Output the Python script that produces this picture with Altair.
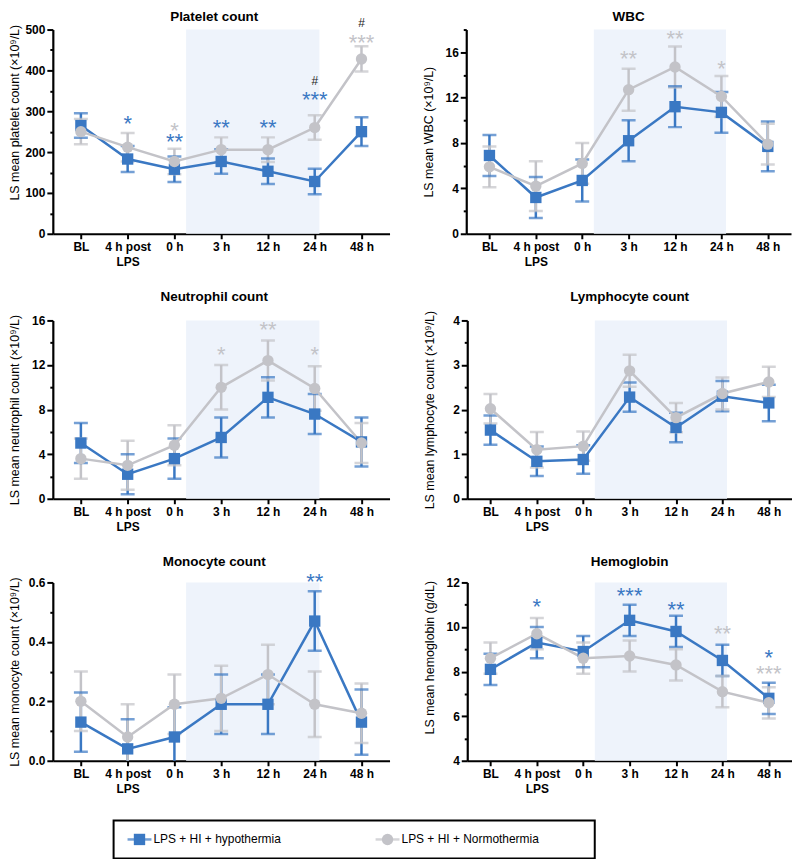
import json
import altair as alt
import pandas as pd

# ---------------- data ----------------
TIMEPOINTS = ["BL", "4 h post\nLPS", "0 h", "3 h", "12 h", "24 h", "48 h"]
GROUPS = ["LPS + HI + hypothermia", "LPS + HI + Normothermia"]
GROUP_COLORS = ["#3a78c3", "#c3c3c8"]
GROUP_SHAPES = ["square", "circle"]
HASH_COLOR = "#222222"
SHADE_COLOR = "#eef3fb"

platelet_hypo = [265, 183, 158, 177, 153, 128, 250]
platelet_hypo_err = [30, 32, 31, 30, 31, 31, 35]
platelet_norm = [250, 212, 177, 206, 206, 260, 428]
platelet_norm_err = [31, 35, 31, 30, 30, 30, 31]
# (timepoint index, text, group index (-1 = between-group '#'), y position)
platelet_sig = [(1, "*", 0, 280), (2, "*", 1, 264), (2, "**", 0, 236), (3, "**", 0, 272),
                (4, "**", 0, 272), (5, "#", -1, 374), (5, "***", 0, 340),
                (6, "#", -1, 516), (6, "***", 1, 480)]

wbc_hypo = [6.9, 3.2, 4.7, 8.2, 11.2, 10.7, 7.7]
wbc_hypo_err = [1.8, 1.8, 1.85, 1.8, 1.8, 1.8, 2.2]
wbc_norm = [5.9, 4.2, 6.2, 12.7, 14.7, 12.1, 7.9]
wbc_norm_err = [1.8, 2.2, 1.8, 1.85, 1.8, 1.8, 1.8]
wbc_sig = [(3, "**", 1, 15.8), (4, "**", 1, 17.6), (5, "*", 1, 15.0)]

neut_hypo = [5.0, 2.2, 3.6, 5.5, 9.1, 7.6, 5.1]
neut_hypo_err = [1.8, 1.8, 1.8, 1.8, 1.8, 1.8, 2.2]
neut_norm = [3.6, 3.0, 4.8, 10.0, 12.4, 9.9, 5.0]
neut_norm_err = [1.8, 2.2, 1.8, 2.0, 1.8, 2.0, 1.8]
neut_sig = [(3, "*", 1, 13.3), (4, "**", 1, 15.6), (5, "*", 1, 13.3)]

lymph_hypo = [1.54, 0.84, 0.88, 2.28, 1.60, 2.30, 2.15]
lymph_hypo_err = [0.33, 0.33, 0.32, 0.33, 0.33, 0.34, 0.41]
lymph_norm = [2.02, 1.10, 1.18, 2.87, 1.82, 2.36, 2.62]
lymph_norm_err = [0.33, 0.40, 0.33, 0.36, 0.33, 0.36, 0.34]
lymph_sig = []

mono_hypo = [0.13, 0.04, 0.08, 0.19, 0.19, 0.47, 0.13]
mono_hypo_err = [0.10, 0.10, 0.10, 0.10, 0.10, 0.10, 0.11]
mono_norm = [0.20, 0.08, 0.19, 0.21, 0.29, 0.19, 0.16]
mono_norm_err = [0.10, 0.11, 0.10, 0.11, 0.10, 0.11, 0.10]
mono_sig = [(5, "**", 0, 0.617)]

hb_hypo = [8.1, 9.3, 8.9, 10.3, 9.8, 8.5, 6.8]
hb_hypo_err = [0.7, 0.7, 0.7, 0.7, 0.7, 0.7, 0.7]
hb_norm = [8.6, 9.7, 8.6, 8.7, 8.3, 7.1, 6.6]
hb_norm_err = [0.7, 0.7, 0.7, 0.7, 0.7, 0.7, 0.7]
hb_sig = [(1, "*", 0, 11.1), (3, "***", 0, 11.6), (4, "**", 0, 11.0), (5, "**", 1, 9.9),
          (6, "*", 0, 8.83), (6, "***", 1, 8.13)]

PANELS = [
    dict(title="Platelet count", ytitle="LS mean platelet count (×10⁹/L)", lo=0, hi=500,
         minor=50, major=100, fmt="d", series=[(platelet_hypo, platelet_hypo_err), (platelet_norm, platelet_norm_err)], sig=platelet_sig),
    dict(title="WBC", ytitle="LS mean WBC (×10⁹/L)", lo=0, hi=18,
         minor=2, major=4, fmt="d", series=[(wbc_hypo, wbc_hypo_err), (wbc_norm, wbc_norm_err)], sig=wbc_sig),
    dict(title="Neutrophil count", ytitle="LS mean neutrophil count (×10⁹/L)", lo=0, hi=16,
         minor=2, major=4, fmt="d", series=[(neut_hypo, neut_hypo_err), (neut_norm, neut_norm_err)], sig=neut_sig),
    dict(title="Lymphocyte count", ytitle="LS mean lymphocyte count (×10⁹/L)", lo=0, hi=4,
         minor=0.5, major=1, fmt="d", series=[(lymph_hypo, lymph_hypo_err), (lymph_norm, lymph_norm_err)], sig=lymph_sig),
    dict(title="Monocyte count", ytitle="LS mean monocyte count (×10⁹/L)", lo=0, hi=0.6,
         minor=0.1, major=0.2, fmt=".1f", series=[(mono_hypo, mono_hypo_err), (mono_norm, mono_norm_err)], sig=mono_sig),
    dict(title="Hemoglobin", ytitle="LS mean hemoglobin (g/dL)", lo=4, hi=12,
         minor=1, major=2, fmt="d", series=[(hb_hypo, hb_hypo_err), (hb_norm, hb_norm_err)], sig=hb_sig),
]

# hypothermia window shading, in timepoint units
SHADE_START, SHADE_END = 2.25, 5.1

# ---------------- layout ----------------
FONT = "Liberation Sans"
LEFT_W, RIGHT_W = 338, 326
ROW_H = [205, 179, 179]
TITLE_OFFSETS = [-6.5, 0.5, 11, 7, 3, 8]
YTITLE_POS = [83, None, None, None, None, 75]
COL_SPACING, ROW_SPACING, LEGEND_SPACING = 33, 22, 25
LEFT_XDOM, RIGHT_XDOM = [-0.6, 6.6], [-0.5, 6.5]
TITLE_X = -31

label_lines = [t.split("\n") for t in TIMEPOINTS]
x_label_expr = json.dumps(label_lines) + "[round(datum.value)]"

color_scale = alt.Scale(domain=GROUPS, range=GROUP_COLORS)
shape_scale = alt.Scale(domain=GROUPS, range=GROUP_SHAPES)


def make_panel(k, width, height, xdom, left):
    p = PANELS[k]
    rows = []
    for gi, (vals, errs) in enumerate(p["series"]):
        for ti, (v, e) in enumerate(zip(vals, errs)):
            rows.append(dict(t=ti, group=GROUPS[gi], value=v, lo=v - e, hi=v + e))
    df = pd.DataFrame(rows)

    n = int(round((p["hi"] - p["lo"]) / p["minor"]))
    yvals = [round(p["lo"] + i * p["minor"], 6) for i in range(n + 1)]
    maj = p["major"]
    is_major = f"abs(datum.value/{maj} - round(datum.value/{maj})) < 1e-6"

    xscale = alt.Scale(domain=xdom, nice=False, zero=False)
    yscale = alt.Scale(domain=[p["lo"], p["hi"]], nice=False, zero=False)
    xaxis = alt.Axis(values=list(range(len(TIMEPOINTS))), labelExpr=x_label_expr,
                     tickSize=5, labelLineHeight=15, labelPadding=3, title=None)
    yaxis_kw = dict(values=yvals,
                    labelExpr=f"{is_major} ? format(datum.value, '{p['fmt']}') : ''",
                    tickSize={"condition": {"test": is_major, "value": 6}, "value": 3},
                    title=p["ytitle"], titleX=TITLE_X, labelPadding=2)
    if YTITLE_POS[k] is not None:
        yaxis_kw["titleY"] = YTITLE_POS[k]
    yaxis = alt.Axis(**yaxis_kw)

    X = lambda f: alt.X(f, scale=xscale, axis=xaxis)
    Y = lambda f: alt.Y(f, scale=yscale, axis=yaxis)
    color = alt.Color("group:N", scale=color_scale, legend=None)

    shade = alt.Chart(pd.DataFrame({"x1": [SHADE_START], "x2": [SHADE_END]})).mark_rect(
        color=SHADE_COLOR).encode(x=X("x1:Q"), x2="x2:Q", y=alt.value(0), y2=alt.value(height))

    base = alt.Chart(df)
    bars = base.mark_rule(strokeWidth=2.5, clip=True).encode(x=X("t:Q"), y=Y("lo:Q"), y2="hi:Q", color=color)
    cap_lo = base.mark_tick(orient="horizontal", size=14, thickness=2.5, clip=True).encode(
        x=X("t:Q"), y=Y("lo:Q"), color=color)
    cap_hi = base.mark_tick(orient="horizontal", size=14, thickness=2.5, clip=True).encode(
        x=X("t:Q"), y=Y("hi:Q"), color=color)
    line = base.mark_line(strokeWidth=2.5).encode(x=X("t:Q"), y=Y("value:Q"), color=color)
    pts = base.mark_point(filled=True, opacity=1, size=130).encode(
        x=X("t:Q"), y=Y("value:Q"), color=color,
        shape=alt.Shape("group:N", scale=shape_scale, legend=None))

    layers = [shade, bars, cap_lo, cap_hi, line, pts]

    stars = [dict(t=t, txt=s, y=yv, col=GROUP_COLORS[g]) for (t, s, g, yv) in p["sig"] if g >= 0]
    hashes = [dict(t=t, txt=s, y=yv, col=HASH_COLOR) for (t, s, g, yv) in p["sig"] if g < 0]
    if stars:
        layers.append(alt.Chart(pd.DataFrame(stars)).mark_text(
            font=FONT, fontSize=22, baseline="alphabetic", dy=12).encode(
            x=X("t:Q"), y=Y("y:Q"), text="txt:N", color=alt.Color("col:N", scale=None)))
    if hashes:
        layers.append(alt.Chart(pd.DataFrame(hashes)).mark_text(
            font=FONT, fontSize=12, baseline="alphabetic", dy=4).encode(
            x=X("t:Q"), y=Y("y:Q"), text="txt:N", color=alt.Color("col:N", scale=None)))

    return alt.layer(*layers).properties(
        width=width, height=height,
        title=alt.TitleParams(p["title"], dx=-7 if left else 0, offset=TITLE_OFFSETS[k]))


rows = []
for r in range(3):
    left = make_panel(2 * r, LEFT_W, ROW_H[r], LEFT_XDOM, True)
    right = make_panel(2 * r + 1, RIGHT_W, ROW_H[r], RIGHT_XDOM, False)
    rows.append(alt.hconcat(left, right, spacing=COL_SPACING))

# ---------------- legend ----------------
leg_df = pd.DataFrame({"i": list(range(len(GROUPS))), "group": GROUPS})
LEG_W, LEG_H = 483, 38
lx = alt.X("i:Q", scale=alt.Scale(domain=[0, 1], range=[26, 275]), axis=None)
leg_base = alt.Chart(leg_df)
leg_line = leg_base.mark_tick(orient="horizontal", size=24, thickness=2.5).encode(
    x=lx, y=alt.value(LEG_H / 2), color=alt.Color("group:N", scale=color_scale, legend=None))
leg_pts = leg_base.mark_point(filled=True, opacity=1, size=130).encode(
    x=lx, y=alt.value(LEG_H / 2), color=alt.Color("group:N", scale=color_scale, legend=None),
    shape=alt.Shape("group:N", scale=shape_scale, legend=None))
leg_txt = leg_base.mark_text(font=FONT, fontSize=12, align="left", baseline="middle", dx=14,
                             color="black").encode(x=lx, y=alt.value(LEG_H / 2), text="group:N")
legend = alt.layer(leg_line, leg_pts, leg_txt).properties(
    width=LEG_W, height=LEG_H, view=alt.ViewBackground(stroke="black", strokeWidth=2))
spacer = alt.Chart(pd.DataFrame({"i": [0]})).mark_point(opacity=0).properties(width=60, height=LEG_H)
legend_row = alt.hconcat(spacer, legend, spacing=0)

chart = alt.vconcat(
    alt.vconcat(*rows, spacing=ROW_SPACING),
    legend_row, spacing=LEGEND_SPACING,
).properties(padding=0).configure_view(stroke=None).configure_axis(
    grid=False, domainColor="black", domainWidth=2.2, tickColor="black", tickWidth=2,
    labelFont=FONT, labelFontSize=12, labelFontWeight="bold", labelColor="black",
    labelOverlap=False, labelBound=False, labelFlush=False,
    titleFont=FONT, titleFontSize=12.5, titleFontWeight="normal", titleColor="black",
).configure_title(font=FONT, fontSize=13.5, fontWeight="bold", color="black", anchor="middle", frame="group")

chart.save("out.html", embed_options={"renderer": "svg", "actions": False})
